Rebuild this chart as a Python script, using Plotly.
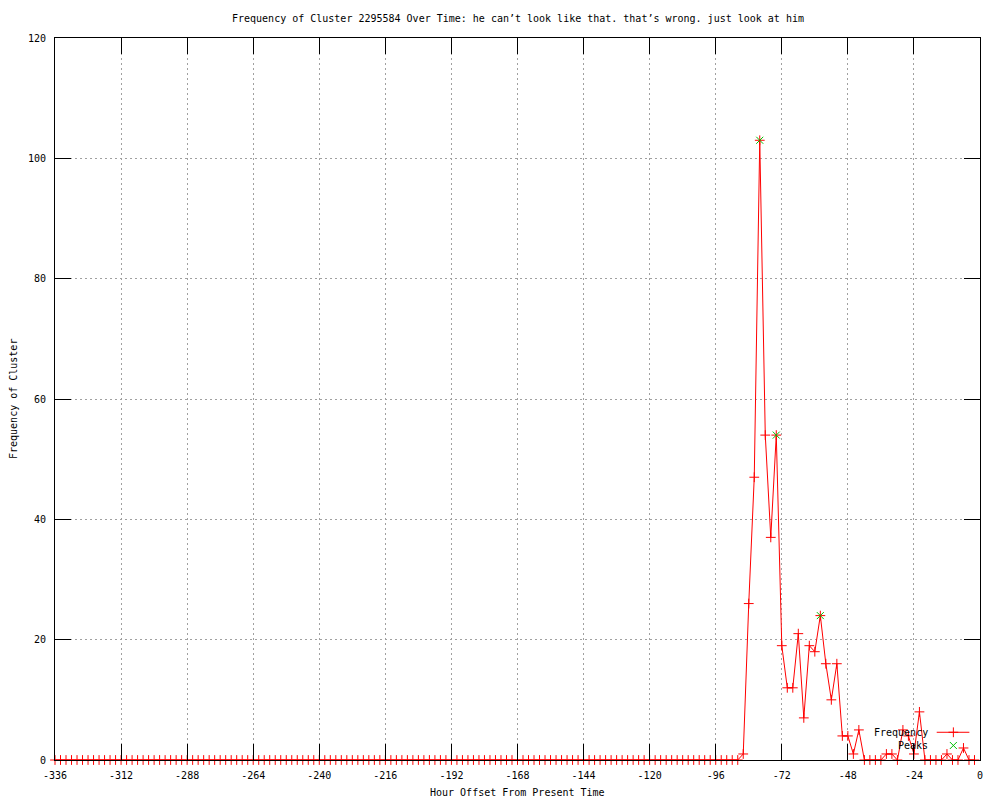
import plotly.graph_objects as go

# ---- data -------------------------------------------------------------
hours = [
    -336, -334, -332, -330, -328, -326, -324, -322, -320, -318, -316, -314,
    -312, -310, -308, -306, -304, -302, -300, -298, -296, -294, -292, -290,
    -288, -286, -284, -282, -280, -278, -276, -274, -272, -270, -268, -266,
    -264, -262, -260, -258, -256, -254, -252, -250, -248, -246, -244, -242,
    -240, -238, -236, -234, -232, -230, -228, -226, -224, -222, -220, -218,
    -216, -214, -212, -210, -208, -206, -204, -202, -200, -198, -196, -194,
    -192, -190, -188, -186, -184, -182, -180, -178, -176, -174, -172, -170,
    -168, -166, -164, -162, -160, -158, -156, -154, -152, -150, -148, -146,
    -144, -142, -140, -138, -136, -134, -132, -130, -128, -126, -124, -122,
    -120, -118, -116, -114, -112, -110, -108, -106, -104, -102, -100, -98,
    -96, -94, -92, -90, -88, -86, -84, -82, -80, -78, -76, -74,
    -72, -70, -68, -66, -64, -62, -60, -58, -56, -54, -52, -50,
    -48, -46, -44, -42, -40, -38, -36, -34, -32, -30, -28, -26,
    -24, -22, -20, -18, -16, -14, -12, -10, -8, -6, -4, -2,
]

frequency = [
    0, 0, 0, 0, 0, 0, 0, 0, 0, 0, 0, 0,
    0, 0, 0, 0, 0, 0, 0, 0, 0, 0, 0, 0,
    0, 0, 0, 0, 0, 0, 0, 0, 0, 0, 0, 0,
    0, 0, 0, 0, 0, 0, 0, 0, 0, 0, 0, 0,
    0, 0, 0, 0, 0, 0, 0, 0, 0, 0, 0, 0,
    0, 0, 0, 0, 0, 0, 0, 0, 0, 0, 0, 0,
    0, 0, 0, 0, 0, 0, 0, 0, 0, 0, 0, 0,
    0, 0, 0, 0, 0, 0, 0, 0, 0, 0, 0, 0,
    0, 0, 0, 0, 0, 0, 0, 0, 0, 0, 0, 0,
    0, 0, 0, 0, 0, 0, 0, 0, 0, 0, 0, 0,
    0, 0, 0, 0, 0, 1, 26, 47, 103, 54, 37, 54,
    19, 12, 12, 21, 7, 19, 18, 24, 16, 10, 16, 4,
    4, 1, 5, 0, 0, 0, 0, 1, 1, 0, 5, 4,
    1, 8, 0, 0, 0, 0, 1, 0, 0, 2, 0, 0,
]

peak_hours = [-80, -74, -58]
peak_values = [103, 54, 24]

x_ticks = [-336, -312, -288, -264, -240, -216, -192, -168, -144, -120, -96, -72, -48, -24, 0]
y_ticks = [0, 20, 40, 60, 80, 100, 120]

title_text = ("Frequency of Cluster 2295584 Over Time: he can\u2019t look like that. "
              "that\u2019s wrong. just look at him")

# ---- style ------------------------------------------------------------
FONT = "DejaVu Sans Mono"
RED = "#ff0000"
GREEN = "#00c000"
GRID = "#a0a0a0"

fig = go.Figure()

fig.add_trace(go.Scatter(
    x=hours, y=frequency, mode="lines+markers", name="Frequency",
    line=dict(color=RED, width=1),
    marker=dict(symbol="cross-thin", size=7, line=dict(color=RED, width=1), color=RED),
    cliponaxis=False, showlegend=False,
))
fig.add_trace(go.Scatter(
    x=peak_hours, y=peak_values, mode="markers", name="Peaks",
    marker=dict(symbol="x-thin", size=7, line=dict(color=GREEN, width=1), color=GREEN),
    cliponaxis=False, showlegend=False,
))

# ---- gnuplot-style legend (text left of sample) on an overlay axis ---
leg_line_x = [0.9532, 0.9885]
leg_mark_x = 0.9712
leg_text_x = 0.9459
leg_freq_y = 0.0384
leg_peak_y = 0.0201

fig.add_trace(go.Scatter(
    x=leg_line_x, y=[leg_freq_y, leg_freq_y], mode="lines",
    line=dict(color=RED, width=1), xaxis="x2", yaxis="y2",
    showlegend=False, hoverinfo="skip", cliponaxis=False,
))
fig.add_trace(go.Scatter(
    x=[leg_mark_x], y=[leg_freq_y], mode="markers",
    marker=dict(symbol="cross-thin", size=7, line=dict(color=RED, width=1)),
    xaxis="x2", yaxis="y2", showlegend=False, hoverinfo="skip", cliponaxis=False,
))
fig.add_trace(go.Scatter(
    x=[leg_mark_x], y=[leg_peak_y], mode="markers",
    marker=dict(symbol="x-thin", size=7, line=dict(color=GREEN, width=1)),
    xaxis="x2", yaxis="y2", showlegend=False, hoverinfo="skip", cliponaxis=False,
))

axis_common = dict(
    showline=True, linecolor="black", linewidth=1, mirror="ticks",
    ticks="inside", ticklen=16, tickwidth=1, tickcolor="black",
    showgrid=True, gridcolor=GRID, gridwidth=1, griddash="2px,3px",
    zeroline=False, automargin=False,
    tickfont=dict(family=FONT, size=10, color="black"),
    ticklabelstandoff=6,
)

fig.update_layout(
    width=1000, height=800,
    margin=dict(l=55, r=20, t=38, b=40),
    paper_bgcolor="white", plot_bgcolor="white",
    font=dict(family=FONT, size=10, color="black"),
    showlegend=False,
    xaxis=dict(range=[-336, 0], tickvals=x_ticks, ticktext=[str(v) for v in x_ticks],
               **axis_common),
    yaxis=dict(range=[0, 120], tickvals=y_ticks, ticktext=[str(v) for v in y_ticks],
               **axis_common),
    xaxis2=dict(overlaying="x", range=[0, 1], visible=False),
    yaxis2=dict(overlaying="y", range=[0, 1], visible=False),
    annotations=[
        dict(text=title_text, xref="paper", yref="paper", x=0.5, y=1,
             yshift=20, xanchor="center", yanchor="middle", showarrow=False,
             font=dict(family=FONT, size=10, color="black")),
        dict(text="Hour Offset From Present Time", xref="paper", yref="paper",
             x=0.5, y=0, yshift=-32, xanchor="center", yanchor="middle",
             showarrow=False, font=dict(family=FONT, size=10, color="black")),
        dict(text="Frequency of Cluster", xref="paper", yref="paper",
             x=0, y=0.5, xshift=-42, xanchor="center", yanchor="middle",
             textangle=-90, showarrow=False,
             font=dict(family=FONT, size=10, color="black")),
        dict(text="Frequency", xref="paper", yref="paper",
             x=leg_text_x, y=leg_freq_y, xanchor="right", yanchor="middle",
             showarrow=False, font=dict(family=FONT, size=10, color="black")),
        dict(text="Peaks", xref="paper", yref="paper",
             x=leg_text_x, y=leg_peak_y, xanchor="right", yanchor="middle",
             showarrow=False, font=dict(family=FONT, size=10, color="black")),
    ],
)

fig.write_html("out.html",
               config={"displayModeBar": False},
               post_script="document.body.style.margin='0';document.body.style.overflow='hidden';")
